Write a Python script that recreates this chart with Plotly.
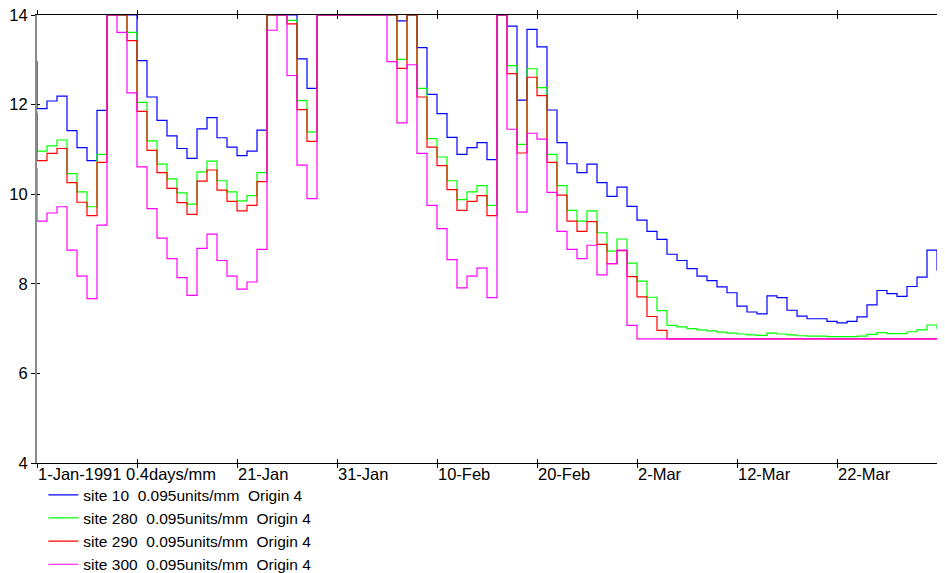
import plotly.graph_objects as go
import pandas as pd

# Daily values; first entry is 31-Dec-1990, last is 1-Apr-1991.
# Values at 14 are at or above the top of the chart.
dates = [d.strftime("%Y-%m-%d %H:%M") for d in pd.date_range("1990-12-31 12:00", periods=92, freq="D")]

site10 = [12.96,
          11.91, 12.08, 12.19, 11.42, 11.04, 10.75, 11.87, 14, 14, 14,
          12.98, 12.17, 11.65, 11.30, 11.02, 10.80, 11.46, 11.71, 11.26, 11.05,
          10.86, 10.96, 11.43, 14, 14, 14, 13.02, 12.36, 14, 14,
          14, 14, 14, 14, 14, 14, 13.87, 14, 13.27, 12.23,
          11.80, 11.27, 10.89, 11.04, 11.15, 10.77, 14, 13.75, 12.10, 13.68,
          13.29, 11.88, 11.15, 10.68, 10.48, 10.67, 10.26, 9.95, 10.16, 9.73,
          9.42, 9.17, 8.99, 8.66, 8.52, 8.34, 8.17, 8.07, 7.93, 7.80,
          7.50, 7.37, 7.33, 7.73, 7.69, 7.41, 7.28, 7.22, 7.22, 7.16,
          7.13, 7.16, 7.26, 7.53, 7.85, 7.78, 7.72, 7.94, 8.15, 8.75,
          8.31]

site280 = [11.85,
           10.96, 11.08, 11.21, 10.46, 10.05, 9.72, 10.89, 14, 14, 13.61,
           12.05, 11.19, 10.67, 10.34, 10.03, 9.78, 10.50, 10.74, 10.30, 10.05,
           9.85, 9.97, 10.48, 14, 14, 13.88, 12.09, 11.39, 14, 14,
           14, 14, 14, 14, 14, 14, 13.01, 14, 12.36, 11.24,
           10.83, 10.30, 9.88, 10.05, 10.19, 9.75, 14, 12.87, 11.11, 12.80,
           12.38, 10.89, 10.19, 9.64, 9.40, 9.63, 9.14, 8.73, 9.00, 8.46,
           8.06, 7.70, 7.40, 7.07, 7.04, 7.00, 6.97, 6.95, 6.92, 6.90,
           6.88, 6.86, 6.85, 6.90, 6.88, 6.86, 6.84, 6.83, 6.83, 6.82,
           6.82, 6.82, 6.83, 6.87, 6.91, 6.89, 6.89, 6.93, 6.97, 7.08,
           7.00]

site290 = [11.80,
           10.75, 10.91, 11.02, 10.26, 9.82, 9.52, 10.71, 14, 14, 13.43,
           11.85, 10.98, 10.48, 10.13, 9.81, 9.55, 10.29, 10.54, 10.09, 9.84,
           9.63, 9.75, 10.28, 14, 14, 13.80, 11.89, 11.18, 14, 14,
           14, 14, 14, 14, 14, 14, 12.81, 14, 12.17, 11.05,
           10.64, 10.10, 9.64, 9.84, 9.97, 9.52, 14, 12.69, 10.92, 12.61,
           12.20, 10.71, 9.98, 9.40, 9.17, 9.39, 8.88, 8.45, 8.74, 8.16,
           7.71, 7.27, 6.96, 6.77, 6.77, 6.77, 6.77, 6.77, 6.77, 6.77,
           6.77, 6.77, 6.77, 6.77, 6.77, 6.77, 6.77, 6.77, 6.77, 6.77,
           6.77, 6.77, 6.77, 6.77, 6.77, 6.77, 6.77, 6.77, 6.77, 6.77,
           6.77]

site300 = [10.57,
           9.40, 9.58, 9.72, 8.75, 8.17, 7.67, 9.31, 14, 13.61, 12.26,
           10.61, 9.68, 9.02, 8.56, 8.14, 7.74, 8.79, 9.11, 8.52, 8.17,
           7.88, 8.04, 8.77, 13.66, 14, 12.65, 10.65, 9.90, 14, 14,
           14, 14, 14, 14, 14, 12.96, 11.59, 12.89, 10.91, 9.75,
           9.23, 8.54, 7.91, 8.17, 8.35, 7.69, 14, 11.45, 9.60, 11.36,
           11.23, 10.04, 9.17, 8.77, 8.56, 8.86, 8.20, 8.45, 8.75, 7.07,
           6.77, 6.77, 6.77, 6.77, 6.77, 6.77, 6.77, 6.77, 6.77, 6.77,
           6.77, 6.77, 6.77, 6.77, 6.77, 6.77, 6.77, 6.77, 6.77, 6.77,
           6.77, 6.77, 6.77, 6.77, 6.77, 6.77, 6.77, 6.77, 6.77, 6.77,
           6.77]

series_names = ["site 10\u00a0\u00a00.095units/mm\u00a0\u00a0Origin 4",
                "site 280\u00a0\u00a00.095units/mm\u00a0\u00a0Origin 4",
                "site 290\u00a0\u00a00.095units/mm\u00a0\u00a0Origin 4",
                "site 300\u00a0\u00a00.095units/mm\u00a0\u00a0Origin 4"]
series_colors = ["#0000ff", "#00ff00", "#ff0000", "#ff00ff"]

tick_dates = ["1991-01-01", "1991-01-11", "1991-01-21", "1991-01-31", "1991-02-10",
              "1991-02-20", "1991-03-02", "1991-03-12", "1991-03-22", "1991-04-01"]
tick_labels = ["1-Jan-1991 0.4days/mm", "", "21-Jan", "31-Jan", "10-Feb",
               "20-Feb", "2-Mar", "12-Mar", "22-Mar", ""]
y_ticks = [4, 6, 8, 10, 12, 14]

for s in (site10, site280, site290, site300):
    assert len(s) == len(dates), len(s)

FONT = "Liberation Sans, Arial, sans-serif"
FS = 16.5
x_range = ["1991-01-01 00:00", "1991-04-01 19:12"]
y_range = [4, 14]

fig = go.Figure()
for name, vals, col in zip(series_names, [site10, site280, site290, site300], series_colors):
    fig.add_trace(go.Scatter(x=dates, y=vals, name=name, mode="lines",
                             line=dict(color=col, width=1.2, shape="hvh")))

# empty trace so the overlay axes (extra tick marks) get drawn
fig.add_trace(go.Scatter(x=[], y=[], xaxis="x2", yaxis="y2", showlegend=False,
                         hoverinfo="skip"))

# the page body has an 8px margin, so the figure is offset by (8, 8)
fig.update_layout(
    width=937, height=565,
    margin=dict(l=29, r=0, t=7, b=110, autoexpand=False),
    paper_bgcolor="white", plot_bgcolor="white",
    font=dict(family=FONT, size=FS, color="black"),
    showlegend=True,
    legend=dict(x=0.007, y=-0.034, xanchor="left", yanchor="top",
                orientation="v", bgcolor="rgba(0,0,0,0)", borderwidth=0,
                font=dict(family=FONT, size=15.5, color="black"),
                tracegroupgap=0),
    xaxis=dict(type="date", range=x_range, tickvals=tick_dates, ticktext=tick_labels,
               ticks="inside", ticklen=4, tickcolor="black", tickwidth=1,
               showline=True, linecolor="black", linewidth=1, mirror="ticks",
               showgrid=False, zeroline=False, ticklabelposition="outside right",
               ticklabelstandoff=-4, ticklabeloverflow="allow",
               automargin=False,
               tickfont=dict(family=FONT, size=FS, color="black"),
               layer="below traces"),
    yaxis=dict(range=y_range, tickvals=y_ticks, ticks="outside", ticklen=4,
               tickcolor="black", tickwidth=1, automargin=False,
               ticklabeloverflow="allow",
               showline=True, linecolor="#8a8a8a", linewidth=2, mirror=False,
               showgrid=False, zeroline=False,
               tickfont=dict(family=FONT, size=FS, color="black"),
               layer="below traces"),
    xaxis2=dict(type="date", overlaying="x", anchor="y2", range=x_range,
                tickvals=tick_dates, ticks="outside", ticklen=4, tickcolor="black",
                showticklabels=False, showline=False, mirror="ticks", automargin=False,
                showgrid=False, zeroline=False),
    yaxis2=dict(overlaying="y", anchor="x2", range=y_range, tickvals=y_ticks,
                ticks="inside", ticklen=3, tickcolor="black", automargin=False,
                showticklabels=False, showline=False, mirror="ticks",
                showgrid=False, zeroline=False),
)

fig.write_html("out.html")
